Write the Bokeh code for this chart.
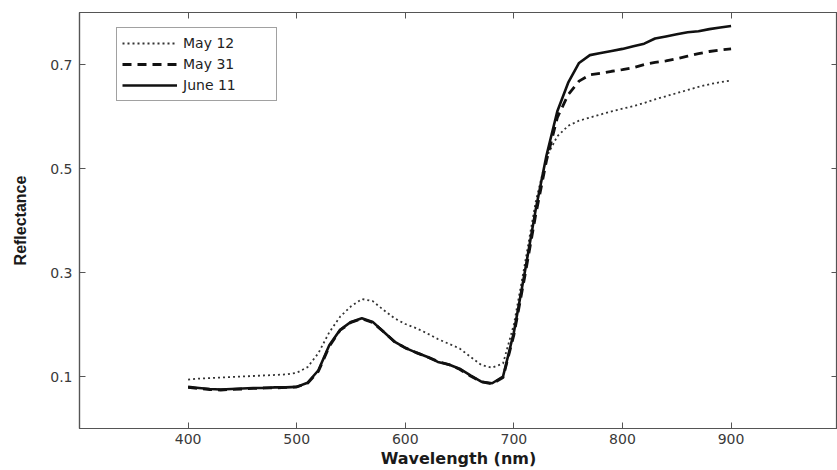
from bokeh.plotting import figure
from bokeh.models import (Range1d, LinearAxis, FixedTicker, CustomJSTickFormatter,
                          Legend, LegendItem)
from bokeh.embed import file_html
from bokeh.resources import INLINE

# ---------------- data ----------------
wavelength = [400, 410, 420, 430, 440, 450, 460, 470, 480, 490,
              500, 510, 520, 530, 540, 550, 560, 570, 580, 590,
              600, 610, 620, 630, 640, 650, 660, 670, 680, 690,
              700, 710, 720, 730, 740, 750, 760, 770, 780, 790,
              800, 810, 820, 830, 840, 850, 860, 870, 880, 890, 900]

may12 = [0.094, 0.096, 0.097, 0.098, 0.099, 0.100, 0.101, 0.102, 0.103, 0.104,
         0.107, 0.118, 0.145, 0.185, 0.215, 0.235, 0.249, 0.245, 0.228, 0.212,
         0.201, 0.193, 0.183, 0.172, 0.163, 0.154, 0.138, 0.122, 0.117, 0.125,
         0.200, 0.315, 0.435, 0.522, 0.562, 0.582, 0.592, 0.598, 0.604, 0.610,
         0.615, 0.620, 0.626, 0.633, 0.639, 0.645, 0.651, 0.657, 0.662, 0.666, 0.669]

may31 = [0.079, 0.077, 0.075, 0.074, 0.075, 0.076, 0.077, 0.078, 0.078, 0.079,
         0.080, 0.087, 0.110, 0.158, 0.189, 0.204, 0.211, 0.204, 0.186, 0.167,
         0.155, 0.146, 0.138, 0.129, 0.123, 0.114, 0.101, 0.090, 0.086, 0.098,
         0.180, 0.292, 0.410, 0.515, 0.598, 0.642, 0.668, 0.680, 0.683, 0.687,
         0.690, 0.694, 0.700, 0.704, 0.707, 0.711, 0.716, 0.721, 0.725, 0.728, 0.730]

june11 = [0.080, 0.078, 0.076, 0.075, 0.076, 0.077, 0.078, 0.078, 0.079, 0.079,
          0.080, 0.088, 0.112, 0.160, 0.190, 0.205, 0.212, 0.205, 0.186, 0.167,
          0.155, 0.146, 0.138, 0.128, 0.123, 0.115, 0.102, 0.090, 0.087, 0.100,
          0.185, 0.300, 0.420, 0.525, 0.610, 0.665, 0.703, 0.718, 0.722, 0.726,
          0.730, 0.735, 0.740, 0.750, 0.754, 0.758, 0.762, 0.764, 0.768, 0.771, 0.774]

x_ticks = [400, 500, 600, 700, 800, 900]
y_ticks = [0.1, 0.3, 0.5, 0.7]
series_labels = ["May 12", "May 31", "June 11"]

# ---------------- figure ----------------
p = figure(width=837, height=470, output_backend="svg", toolbar_location=None,
           x_range=Range1d(300, 998), y_range=Range1d(0, 0.8),
           min_border_left=79, min_border_right=0, min_border_top=12,
           min_border_bottom=41)
p.background_fill_color = "white"
p.border_fill_color = "white"
p.outline_line_color = "#555555"
p.outline_line_width = 1.2
p.xgrid.visible = False
p.ygrid.visible = False

tick_font = "DejaVu Sans"
for ax in (p.xaxis[0], p.yaxis[0]):
    ax.axis_line_color = "#555555"
    ax.axis_line_width = 1.2
    ax.major_tick_in = 6
    ax.major_tick_out = 0
    ax.minor_tick_in = 0
    ax.minor_tick_out = 0
    ax.major_tick_line_color = "#555555"
    ax.major_label_text_font = tick_font
    ax.major_label_text_font_size = "14px"
    ax.major_label_text_color = "#3a3a3a"

p.xaxis[0].ticker = FixedTicker(ticks=x_ticks)
p.yaxis[0].ticker = FixedTicker(ticks=y_ticks)
p.xaxis[0].major_label_standoff = 5
p.yaxis[0].major_label_standoff = 7

p.xaxis[0].axis_label = "Wavelength (nm)"
p.xaxis[0].axis_label_text_font = "DejaVu Sans"
p.xaxis[0].axis_label_text_font_style = "bold"
p.xaxis[0].axis_label_text_font_size = "16px"
p.xaxis[0].axis_label_text_color = "#1a1a1a"
p.xaxis[0].axis_label_standoff = 2

p.yaxis[0].axis_label = "Reflectance"
p.yaxis[0].axis_label_text_font = "Liberation Sans"
p.yaxis[0].axis_label_text_font_style = "bold"
p.yaxis[0].axis_label_text_font_size = "16px"
p.yaxis[0].axis_label_text_color = "#1a1a1a"
p.yaxis[0].axis_label_standoff = 18

# mirrored axes (ticks only) on top and right
blank = CustomJSTickFormatter(code="return ''")
top_ax = LinearAxis(ticker=FixedTicker(ticks=x_ticks), formatter=blank)
right_ax = LinearAxis(ticker=FixedTicker(ticks=y_ticks), formatter=blank)
for ax in (top_ax, right_ax):
    ax.axis_line_color = "#555555"
    ax.axis_line_width = 1.2
    ax.major_tick_in = 6
    ax.major_tick_out = 0
    ax.minor_tick_in = 0
    ax.minor_tick_out = 0
    ax.major_tick_line_color = "#555555"
    ax.major_label_standoff = 0
    ax.major_label_text_font_size = "1px"
p.add_layout(top_ax, "above")
p.add_layout(right_ax, "right")

# ---------------- lines ----------------
r1 = p.line(wavelength, may12, line_color="#333333", line_width=1.8, line_dash="2 3")
r2 = p.line(wavelength, may31, line_color="#111111", line_width=2.8, line_dash="9 6")
r3 = p.line(wavelength, june11, line_color="#111111", line_width=2.6)

legend = Legend(items=[LegendItem(label=series_labels[0], renderers=[r1]),
                       LegendItem(label=series_labels[1], renderers=[r2]),
                       LegendItem(label=series_labels[2], renderers=[r3])],
                location=(37, 327))
legend.label_text_font = "DejaVu Sans"
legend.label_text_font_size = "14px"
legend.label_text_color = "#222222"
legend.glyph_width = 55
legend.glyph_height = 20
legend.label_height = 20
legend.label_width = 88
legend.label_standoff = 6
legend.spacing = 1
legend.padding = 5
legend.margin = 0
legend.border_line_color = "#444444"
legend.border_line_width = 1.2
legend.background_fill_color = "white"
legend.background_fill_alpha = 1
p.add_layout(legend, "center")

open("out.html", "w").write(file_html(p, INLINE))
